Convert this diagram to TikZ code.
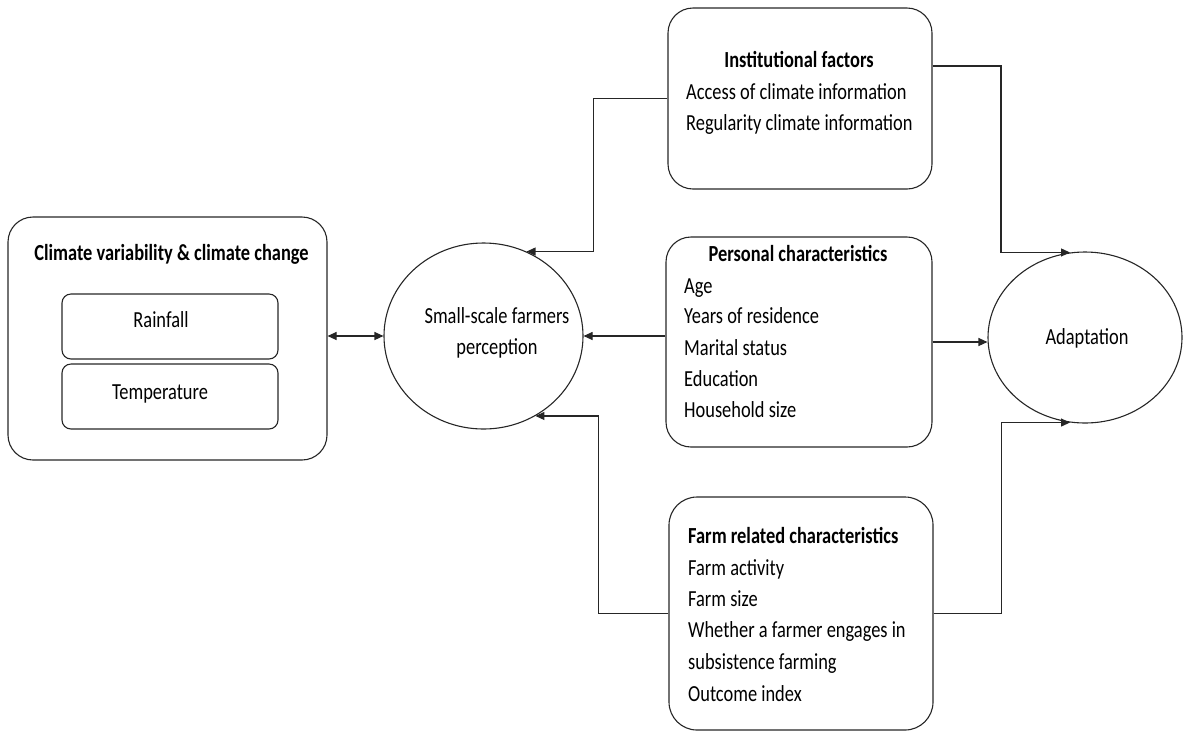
\documentclass[tikz,border=0pt]{standalone}
\usepackage{fontspec}
\setmainfont{Carlito}[FakeStretch=0.8]
\usetikzlibrary{arrows.meta,shapes.geometric}
\begin{document}
\begin{tikzpicture}[x=1pt,y=-1pt,
  font=\fontsize{23}{31.6}\selectfont,
  box/.style={draw=black!85, line width=1.1pt, rounded corners=#1, inner sep=0pt},
  oval/.style={draw=black!85, line width=1.1pt, ellipse, inner sep=0pt},
  lbl/.style={inner sep=0pt, anchor=mid, yshift=-5pt},
  item/.style={inner sep=0pt, anchor=mid west, yshift=-5pt},
  arr/.style={draw=black!85, line width=1.1pt, -{Triangle[length=9pt,width=8pt]}},
  darr/.style={draw=black!85, line width=1.1pt, {Triangle[length=9pt,width=8pt]}-{Triangle[length=9pt,width=8pt]}}]
\useasboundingbox (0,0) rectangle (1185,732);

% boxes
\node[box=25pt, minimum width=319pt, minimum height=243pt] (clim) at (167.5,338.5) {};
\node[box=9pt, minimum width=216pt, minimum height=65pt] (rain) at (170,326.5) {};
\node[box=9pt, minimum width=216pt, minimum height=65pt] (temp) at (170,396.5) {};
\node[oval, minimum width=199pt, minimum height=186pt] (perc) at (483.5,336) {};
\node[box=25pt, minimum width=264pt, minimum height=181pt] (inst) at (800,98.5) {};
\node[box=25pt, minimum width=266pt, minimum height=210pt] (pers) at (799,342) {};
\node[box=28pt, minimum width=264pt, minimum height=233pt] (farm) at (801,613.5) {};
\node[oval, minimum width=194pt, minimum height=171pt] (adapt) at (1085,337.5) {};

% texts
\node[lbl] (tclim) at (171.5,253) {\bfseries Climate variability \& climate change};
\node[lbl] (train) at (161,320) {Rainfall};
\node[lbl] (ttemp) at (160,392) {Temperature};
\node[lbl, align=center] (tperc) at (497,347.5) {Small-scale farmers\\perception};
\node[lbl] (tadapt) at (1087,337) {Adaptation};

\node[lbl] (tinst) at (799,60) {\bfseries Institutional factors};
\node[item] (i1) at (686,92) {Access of climate information};
\node[item] (i2) at (686,123) {Regularity climate information};

\node[lbl] (tpers) at (798,254) {\bfseries Personal characteristics};
\node[item] (p1) at (684,286) {Age};
\node[item] (p2) at (684,316.5) {Years of residence};
\node[item] (p3) at (684,348) {Marital status};
\node[item] (p4) at (684,379) {Education};
\node[item] (p5) at (684,410) {Household size};

\node[item] (tfarm) at (688,536) {\bfseries Farm related characteristics};
\node[item] (f1) at (688,568) {Farm activity};
\node[item] (f2) at (688,599) {Farm size};
\node[item] (f3) at (688,630.5) {Whether a farmer engages in};
\node[item] (f4) at (688,662.5) {subsistence farming};
\node[item] (f5) at (688,694) {Outcome index};

% connectors
\draw[darr] (clim.east |- perc.west) -- (perc.west);
\draw[arr] (inst.west) -- ++(-74,0) |- (perc.63);
\draw[arr] (pers.west |- perc.east) -- (perc.east);
\draw[arr] (farm.west) -- ++(-70,0) |- (perc.303);
\draw[arr] (inst.east |- 0,66) -- (1001,66) |- (adapt.100);
\draw[arr] (pers.east) -- (pers.east -| adapt.west);
\draw[arr] (farm.east) -- ++(68,0) |- (adapt.260);
\end{tikzpicture}
\end{document}
